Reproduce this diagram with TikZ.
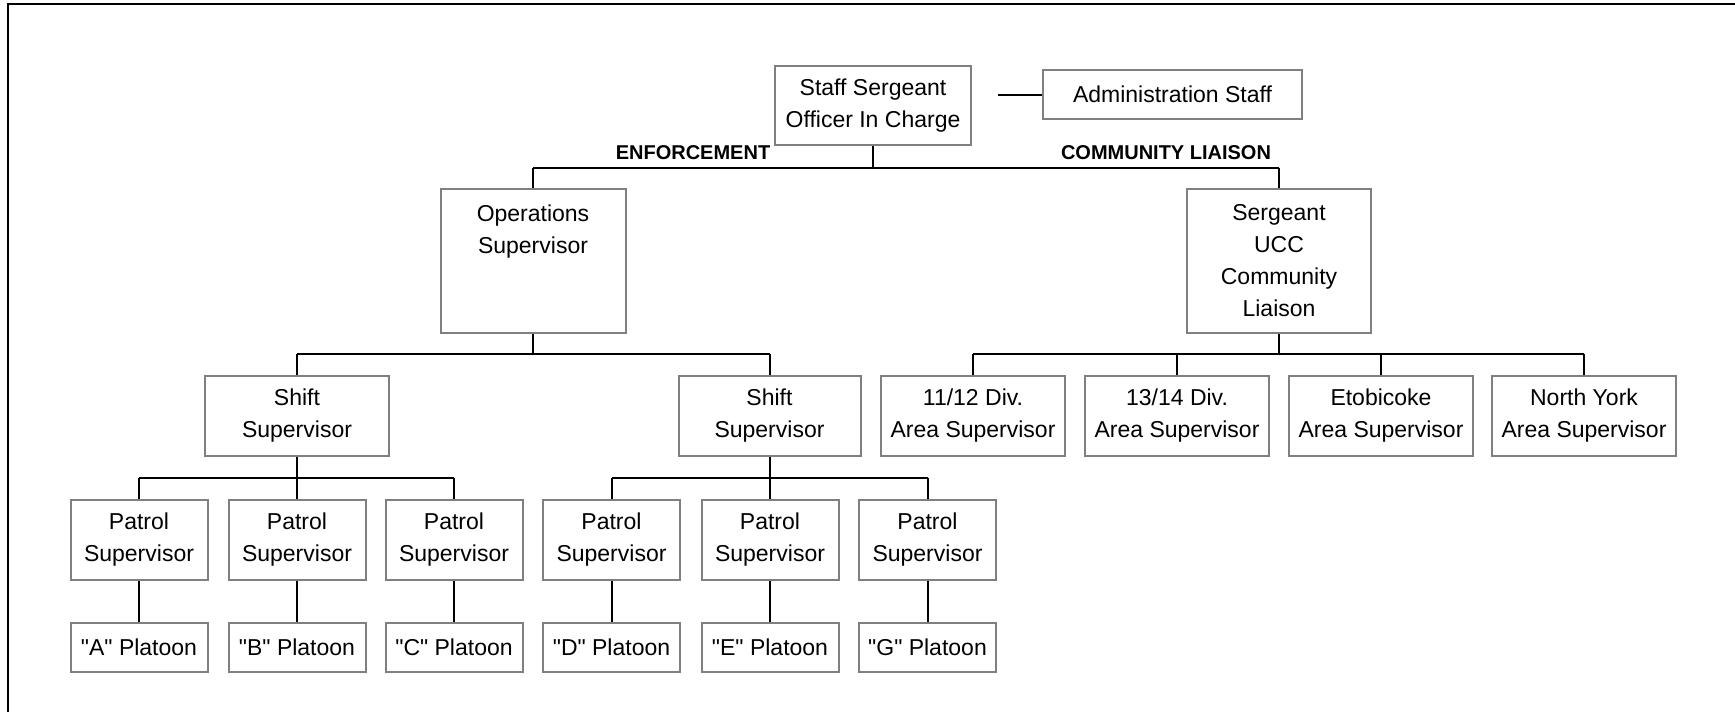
\documentclass[tikz,border=0pt]{standalone}
\usepackage{fontspec}
\setmainfont[Ligatures=TeXOff]{Liberation Sans}
\begin{document}
\begin{tikzpicture}[x=0.5pt,y=-0.5pt,
  box/.style={draw=boxgray, line width=1pt, fill=white, inner sep=0pt, align=center,
    font=\fontsize{11.5}{16}\selectfont},
  bigbox/.style={box, minimum width=92.5pt, minimum height=72pt},
  midbox/.style={box, minimum width=92pt, minimum height=40pt},
  patbox/.style={box, minimum width=68.5pt, minimum height=40pt},
  platbox/.style={box, minimum width=68.5pt, minimum height=24.5pt},
  conn/.style={draw=black, line width=1pt},
  bus/.style={draw=black, line width=1.4pt},
  branch/.style={font=\bfseries\fontsize{10}{12}\selectfont, inner sep=0pt, anchor=base}
]
\definecolor{boxgray}{HTML}{808080}
\useasboundingbox (0,0) rectangle (1735,712);
% frame
\draw[line width=1pt] (8,712) -- (8,4) -- (1735,4);

% bus levels
\coordinate (b1) at (0,168);
\coordinate (b2) at (0,354);
\coordinate (b3) at (0,478);

% top
\node[box, minimum width=98pt, minimum height=39.5pt] (ss) at (873,105.5) {Staff Sergeant\\Officer In Charge};
\node[box, minimum width=129.5pt, minimum height=24.5pt] (adm) at (1172.5,94.5) {Administration Staff};
\coordinate (admc) at (998,95);
\draw[conn] (admc) -- (adm.west |- admc);

\node[branch] (enf) at (693,159.5) {ENFORCEMENT};
\node[branch] (cl) at (1166,159.5) {COMMUNITY LIAISON};

% level 1
\node[bigbox] (ops) at (533,261) {Operations\\Supervisor\\\phantom{C}\\\phantom{L}};
\node[bigbox, minimum width=92pt] (ucc) at (1279,261) {Sergeant\\UCC\\Community\\Liaison};

\draw[conn] (ss.south) -- (ss.south |- b1);
\draw[bus] (b1 -| ops.north) -- (b1 -| ucc.north);
\draw[conn] (ops.north) -- (ops.north |- b1);
\draw[conn] (ucc.north) -- (ucc.north |- b1);

% level 2
\node[midbox] (sh1) at (297,416) {Shift\\Supervisor};
\node[midbox, minimum width=91pt] (sh2) at (769.5,416) {Shift\\Supervisor};
\node[midbox] (ar1) at (973,416) {11/12 Div.\\Area Supervisor};
\node[midbox] (ar2) at (1177,416) {13/14 Div.\\Area Supervisor};
\node[midbox] (ar3) at (1381,416) {Etobicoke\\Area Supervisor};
\node[midbox] (ar4) at (1584,416) {North York\\Area Supervisor};

\draw[conn] (ops.south) -- (ops.south |- b2);
\draw[bus] (b2 -| sh1.north) -- (b2 -| sh2.north);
\draw[conn] (sh1.north) -- (sh1.north |- b2);
\draw[conn] (sh2.north) -- (sh2.north |- b2);

\draw[conn] (ucc.south) -- (ucc.south |- b2);
\draw[bus] (b2 -| ar1.north) -- (b2 -| ar4.north);
\foreach \n in {ar1,ar2,ar3,ar4}{
  \draw[conn] (\n.north) -- (\n.north |- b2);
}

% level 3
\node[patbox] (p1) at (139,540) {Patrol\\Supervisor};
\node[patbox] (p2) at (297,540) {Patrol\\Supervisor};
\node[patbox] (p3) at (454,540) {Patrol\\Supervisor};
\node[patbox] (p4) at (611.5,540) {Patrol\\Supervisor};
\node[patbox] (p5) at (770,540) {Patrol\\Supervisor};
\node[patbox] (p6) at (927.5,540) {Patrol\\Supervisor};

\draw[conn] (sh1.south) -- (p2.north);
\draw[bus] (b3 -| p1.north) -- (b3 -| p3.north);
\draw[conn] (p1.north) -- (p1.north |- b3);
\draw[conn] (p3.north) -- (p3.north |- b3);

\draw[conn] (sh2.south) -- (sh2.south |- p5.north);
\draw[bus] (b3 -| p4.north) -- (b3 -| p6.north);
\draw[conn] (p4.north) -- (p4.north |- b3);
\draw[conn] (p6.north) -- (p6.north |- b3);

% level 4
\node[platbox] (q1) at (139,647.5) {"A" Platoon};
\node[platbox] (q2) at (297,647.5) {"B" Platoon};
\node[platbox] (q3) at (454,647.5) {"C" Platoon};
\node[platbox] (q4) at (611.5,647.5) {"D" Platoon};
\node[platbox] (q5) at (770,647.5) {"E" Platoon};
\node[platbox] (q6) at (927.5,647.5) {"G" Platoon};

\foreach \i in {1,...,6}{
  \draw[conn] (p\i.south) -- (q\i.north);
}
\end{tikzpicture}
\end{document}
